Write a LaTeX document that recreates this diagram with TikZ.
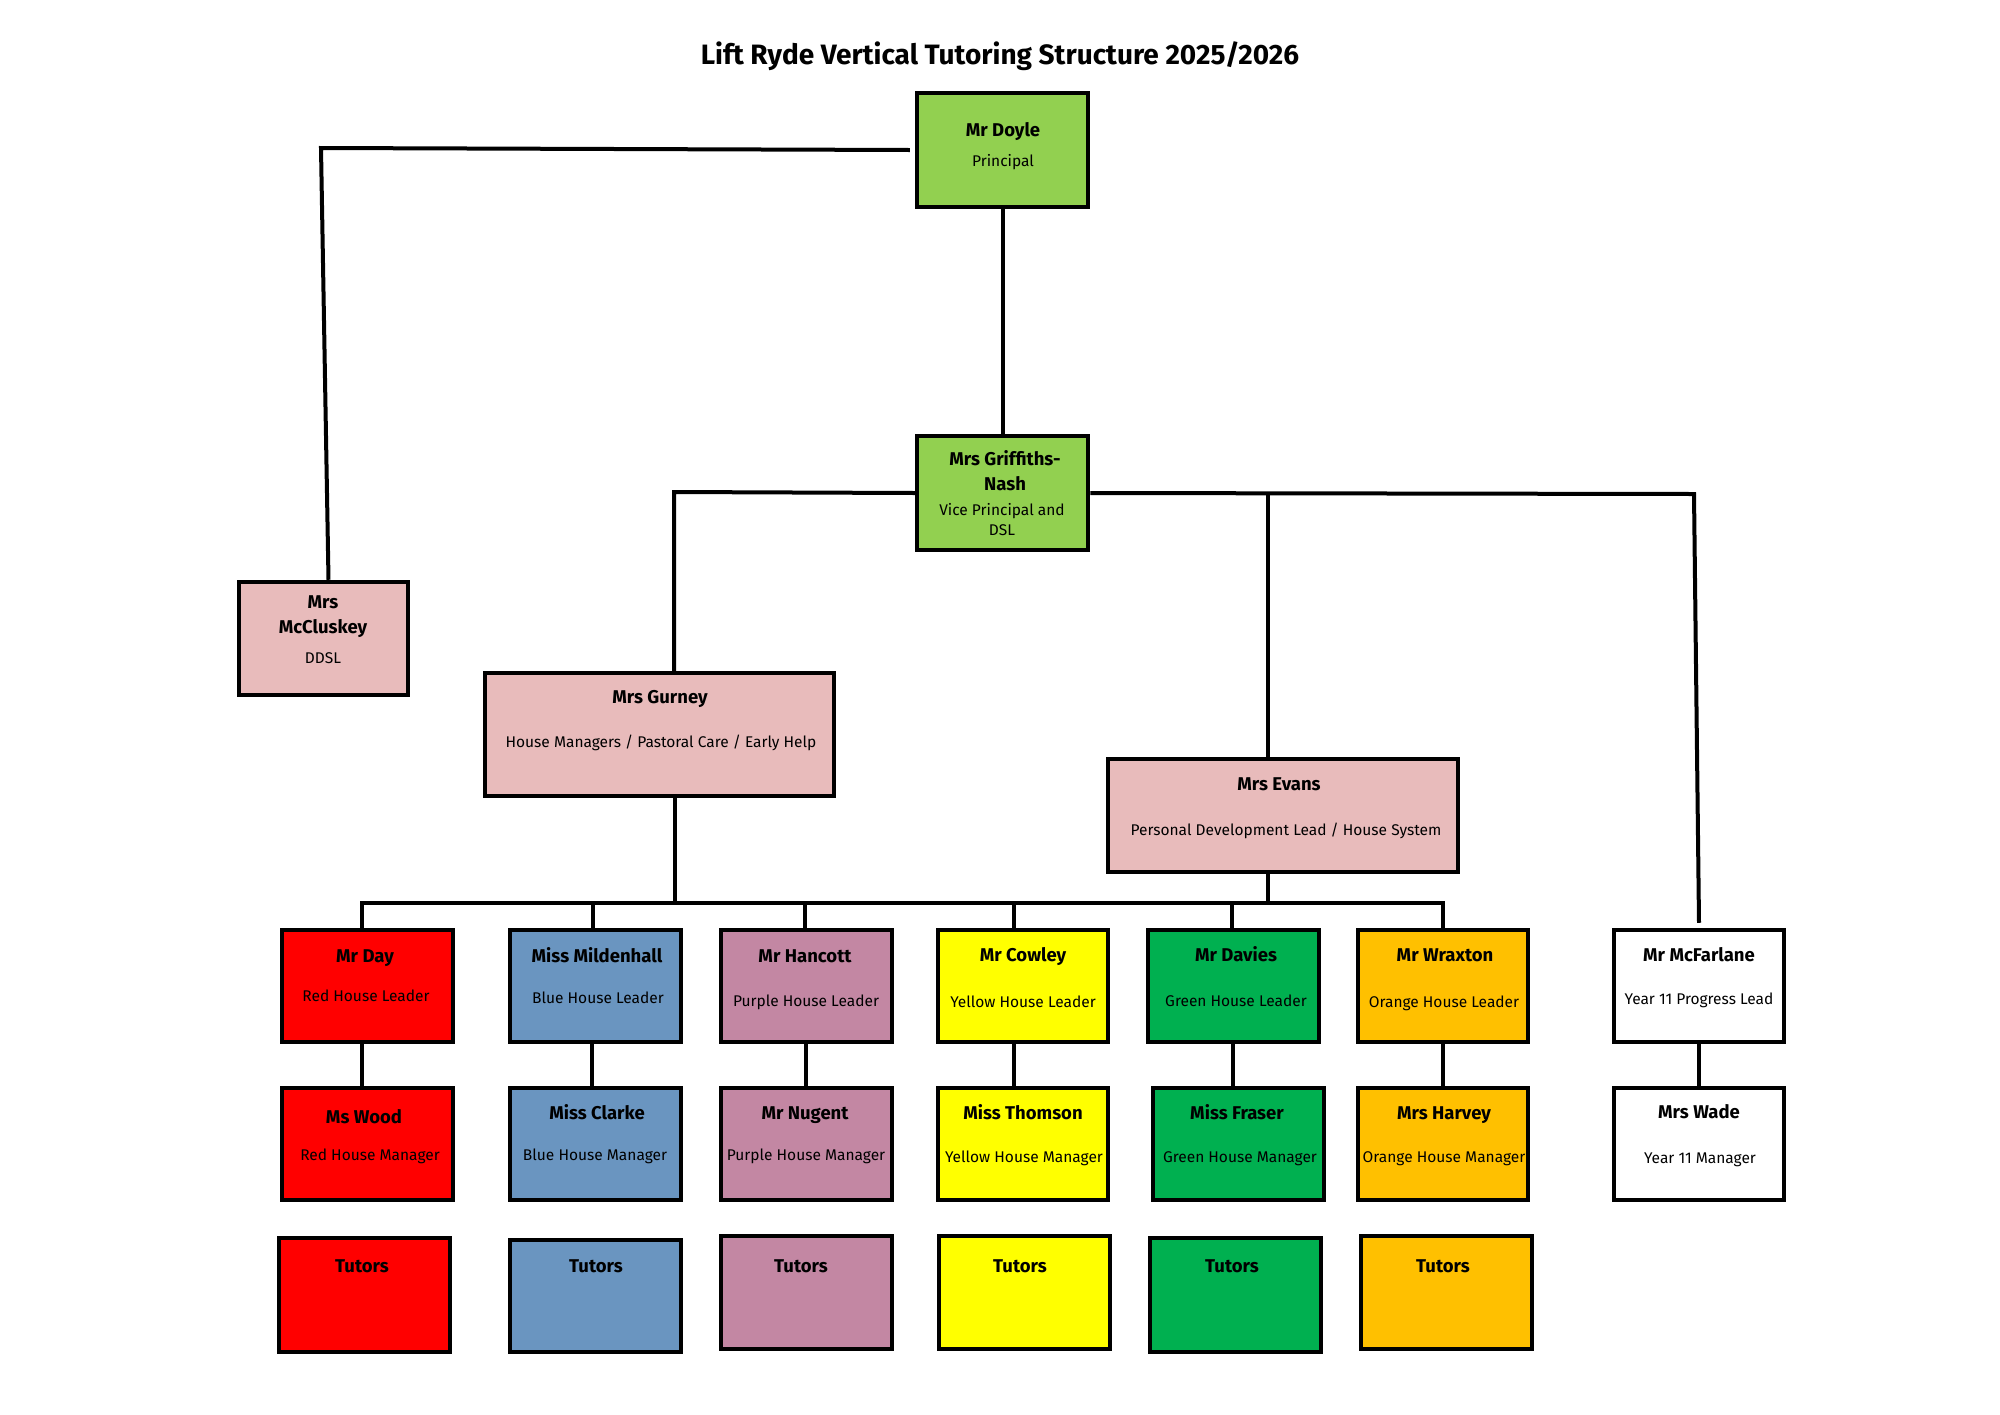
\documentclass[tikz,border=0pt]{standalone}
\usepackage{fontspec}
\setmainfont{Fira Sans}
\definecolor{lgreen}{HTML}{92D050}
\definecolor{lpink}{HTML}{E8BBBB}
\definecolor{hred}{HTML}{FF0000}
\definecolor{hblue}{HTML}{6A95C0}
\definecolor{hpurple}{HTML}{C387A3}
\definecolor{hyellow}{HTML}{FFFF00}
\definecolor{hgreen}{HTML}{00B050}
\definecolor{horange}{HTML}{FFC000}
\newcommand\mkbox[6]{\node[box, fill=#6, minimum width={#4-#2}, minimum height={#5-#3}] (#1) at ({(#2+#4)/2},{(#3+#5)/2}) {};}
\begin{document}
\begin{tikzpicture}[x=1pt,y=-1pt,
 box/.style={draw=black,line width=4.5pt,inner sep=0pt},
 conn/.style={draw=black,line width=4pt},
 nm/.style={font=\fontsize{18.5}{22}\selectfont\bfseries,anchor=mid,inner sep=0pt,yshift=-4pt},
 sb/.style={font=\fontsize{15.5}{19}\selectfont,anchor=mid,inner sep=0pt,yshift=-4pt},
 ttl/.style={font=\fontsize{28}{33}\selectfont\bfseries,inner sep=0pt,anchor=mid}]
\useasboundingbox[fill=white] (0,0) rectangle (2000,1414);

\node[ttl] (title) at (1000,62) {Lift Ryde Vertical Tutoring Structure 2025/2026};

% boxes
\mkbox{doyle}{917}{93}{1088}{207}{lgreen}
\mkbox{gn}{917}{436}{1088}{550}{lgreen}
\mkbox{mcc}{239}{582}{408}{695}{lpink}
\mkbox{gurney}{485}{673}{834}{796}{lpink}
\mkbox{evans}{1108}{759}{1458}{872}{lpink}

\mkbox{day}{282}{930}{453}{1042}{hred}
\mkbox{mild}{510}{930}{681}{1042}{hblue}
\mkbox{hanc}{721}{930}{892}{1042}{hpurple}
\mkbox{cow}{938}{930}{1108}{1042}{hyellow}
\mkbox{dav}{1148}{930}{1319}{1042}{hgreen}
\mkbox{wrax}{1358}{930}{1528}{1042}{horange}
\mkbox{mcf}{1614}{930}{1784}{1042}{white}

\mkbox{wood}{282}{1088}{453}{1200}{hred}
\mkbox{clarke}{510}{1088}{681}{1200}{hblue}
\mkbox{nugent}{721}{1088}{892}{1200}{hpurple}
\mkbox{thom}{938}{1088}{1108}{1200}{hyellow}
\mkbox{fraser}{1153}{1088}{1324}{1200}{hgreen}
\mkbox{harvey}{1358}{1088}{1528}{1200}{horange}
\mkbox{wade}{1614}{1088}{1784}{1200}{white}

\mkbox{tred}{279}{1238}{450}{1352}{hred}
\mkbox{tblue}{510}{1240}{681}{1352}{hblue}
\mkbox{tpurple}{721}{1236}{892}{1349}{hpurple}
\mkbox{tyellow}{939}{1236}{1110}{1349}{hyellow}
\mkbox{tgreen}{1150}{1238}{1321}{1352}{hgreen}
\mkbox{torange}{1361}{1236}{1532}{1349}{horange}

% texts
\node[nm] (t1) at (1003,130) {Mr Doyle};
\node[sb] (t2) at (1003,160) {Principal};
\node[nm] (t3) at (1005,459) {Mrs Griffiths-};
\node[nm] (t4) at (1005,484) {Nash};
\node[sb] (t5) at (1002,509) {Vice Principal and};
\node[sb] (t6) at (1002,529) {DSL};
\node[nm] (t7) at (323,602) {Mrs};
\node[nm] (t8) at (323,627) {McCluskey};
\node[sb] (t9) at (323,657) {DDSL};
\node[nm] (t10) at (660,697) {Mrs Gurney};
\node[sb] (t11) at (661,741) {House Managers / Pastoral Care / Early Help};
\node[nm] (t12) at (1279,784) {Mrs Evans};
\node[sb] (t13) at (1286,829) {Personal Development Lead / House System};

\node[nm] (n1) at (365,956) {Mr Day};
\node[sb] (s1) at (366,995) {Red House Leader};
\node[nm] (n2) at (597,956) {Miss Mildenhall};
\node[sb] (s2) at (598,997) {Blue House Leader};
\node[nm] (n3) at (805,956) {Mr Hancott};
\node[sb] (s3) at (806,1000) {Purple House Leader};
\node[nm] (n4) at (1023,955) {Mr Cowley};
\node[sb] (s4) at (1023,1001) {Yellow House Leader};
\node[nm] (n5) at (1236,955) {Mr Davies};
\node[sb] (s5) at (1236,1000) {Green House Leader};
\node[nm] (n6) at (1445,955) {Mr Wraxton};
\node[sb] (s6) at (1444,1001) {Orange House Leader};
\node[nm] (n7) at (1699,955) {Mr McFarlane};
\node[sb] (s7) at (1699,998) {Year 11 Progress Lead};

\node[nm] (n8) at (364,1117) {Ms Wood};
\node[sb] (s8) at (370,1154) {Red House Manager};
\node[nm] (n9) at (597,1113) {Miss Clarke};
\node[sb] (s9) at (595,1154) {Blue House Manager};
\node[nm] (n10) at (805,1113) {Mr Nugent};
\node[sb] (s10) at (806,1154) {Purple House Manager};
\node[nm] (n11) at (1023,1113) {Miss Thomson};
\node[sb] (s11) at (1024,1156) {Yellow House Manager};
\node[nm] (n12) at (1237,1113) {Miss Fraser};
\node[sb] (s12) at (1240,1156) {Green House Manager};
\node[nm] (n13) at (1444,1113) {Mrs Harvey};
\node[sb] (s13) at (1444,1156) {Orange House Manager};
\node[nm] (n14) at (1699,1112) {Mrs Wade};
\node[sb] (s14) at (1700,1157) {Year 11 Manager};

\node[nm] (u1) at (362,1266) {Tutors};
\node[nm] (u2) at (596,1266) {Tutors};
\node[nm] (u3) at (801,1266) {Tutors};
\node[nm] (u4) at (1020,1266) {Tutors};
\node[nm] (u5) at (1232,1266) {Tutors};
\node[nm] (u6) at (1443,1266) {Tutors};

% connector coordinates
\coordinate (c1) at (321,148);
\coordinate (c2) at (674,492);
\coordinate (c3) at (1694,494);
\coordinate (c4) at (1268,493);
\coordinate (bL) at (362,903);
\coordinate (bR) at (1443,903);
\coordinate (bg) at (675,903);
\coordinate (b2) at (593,903);
\coordinate (b3) at (805,903);
\coordinate (b4) at (1014,903);
\coordinate (b5) at (1232,903);

% connectors
\draw[conn] (doyle.south) -- (gn.north);
\draw[conn] ([xshift=-5pt]doyle.west) -- (c1) -- ([xshift=5pt]mcc.north);
\draw[conn] (gn.west) -- (c2) -- (c2 |- gurney.north);
\draw[conn] (gn.east) -- (c3) -- ([yshift=5pt]mcf.north);
\draw[conn] (c4) -- (c4 |- evans.north);
\draw[conn] (bg |- gurney.south) -- (bg);
\draw[conn] (c4 |- evans.south) -- (c4 |- bL);
\draw[conn] (bL |- day.north) -- (bL) -- (bR) -- (bR |- wrax.north);
\draw[conn] (b2) -- (b2 |- mild.north);
\draw[conn] (b3) -- (b3 |- hanc.north);
\draw[conn] (b4) -- (b4 |- cow.north);
\draw[conn] (b5) -- (b5 |- dav.north);

\draw[conn] (bL |- day.south) -- (bL |- wood.north);
\draw[conn] ([xshift=-1pt]b2 |- mild.south) -- ([xshift=-1pt]b2 |- clarke.north);
\draw[conn] ([xshift=1pt]b3 |- hanc.south) -- ([xshift=1pt]b3 |- nugent.north);
\draw[conn] (b4 |- cow.south) -- (b4 |- thom.north);
\draw[conn] ([xshift=1pt]b5 |- dav.south) -- ([xshift=1pt]b5 |- fraser.north);
\draw[conn] (bR |- wrax.south) -- (bR |- harvey.north);
\draw[conn] (mcf.south) -- (wade.north);
\end{tikzpicture}
\end{document}
